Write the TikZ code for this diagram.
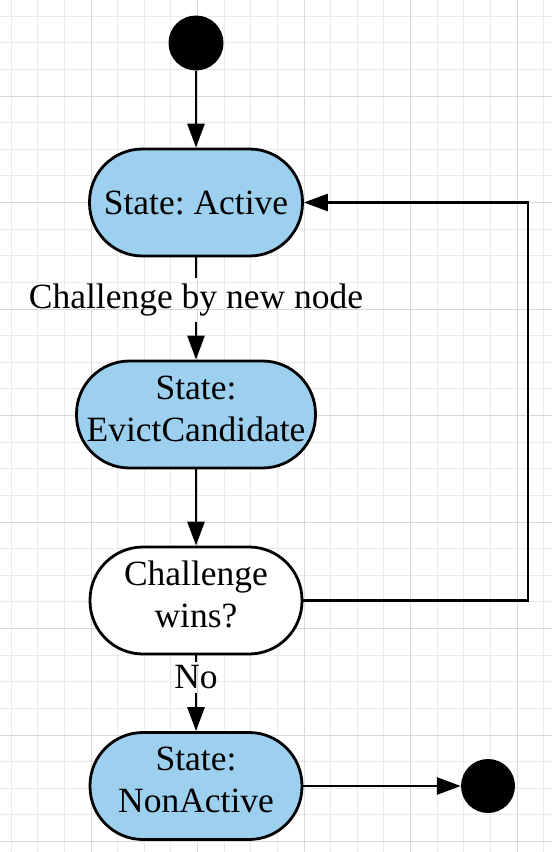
\documentclass[tikz,border=0pt]{standalone}
\usepackage{fontspec}
\setmainfont{Liberation Serif}
\usetikzlibrary{arrows.meta}
\definecolor{statefill}{RGB}{157,208,238}
\definecolor{gridminor}{RGB}{234,234,234}
\definecolor{gridmajor}{RGB}{216,216,216}
\frenchspacing
\begin{document}
\begin{tikzpicture}[x=1pt,y=-1pt,
  bigfont/.style={font=\fontsize{35.5}{42}\selectfont\frenchspacing},
  pill/.style={draw=black, line width=2.8pt, rounded corners=53pt,
    minimum height=107pt, align=center, inner sep=0pt, bigfont},
  stnode/.style={pill, fill=statefill},
  decnode/.style={pill, fill=white},
  twoline/.style={text depth=12pt},
  dot/.style={circle, fill=black, inner sep=0pt, minimum size=55pt},
  lbl/.style={bigfont, inner sep=0pt},
  conn/.style={line width=2.8pt, line join=miter, -{Triangle[length=24pt,width=17pt]}},
  plain/.style={line width=2.8pt, line join=miter}]
\useasboundingbox (0,0) rectangle (552,852);
\fill[white] (0,0) rectangle (552,852);
% grid
\foreach \k in {-3,...,17} {
  \draw[gridminor, line width=1pt] ({91+26.625*\k},0) -- ({91+26.625*\k},852);
}
\foreach \k in {-3,...,28} {
  \draw[gridminor, line width=1pt] (0,{96+26.625*\k}) -- (552,{96+26.625*\k});
}
\foreach \k in {0,4,...,16} {
  \draw[gridmajor, line width=1pt] ({91+26.625*\k},0) -- ({91+26.625*\k},852);
}
\foreach \k in {0,4,...,28} {
  \draw[gridmajor, line width=1pt] (0,{96+26.625*\k}) -- (552,{96+26.625*\k});
}
% nodes
\node[dot] (start) at (196,43) {};
\node[stnode, minimum width=213pt] (active) at (196,202.5) {State: Active};
\node[lbl, minimum height=43pt] (lab1) at (196,300) {Challenge by new node};
\node[stnode, twoline, minimum width=239pt] (evict) at (196,414.5) {State:\\EvictCandidate};
\node[decnode, twoline, minimum width=212pt] (dec) at (196,600.5) {Challenge\\wins?};
\node[lbl, minimum height=31pt] (lab2) at (196,677.5) {No};
\node[stnode, twoline, minimum width=212pt] (nonactive) at (196,786) {State:\\NonActive};
\node[dot, minimum size=54pt] (end) at (488,786) {};
\coordinate (loopb) at (528,600.5);
\coordinate (loopt) at (528,202.5);
% connectors
\draw[conn] (start) -- (active);
\draw[plain] (active.south) -- (lab1.north);
\draw[conn] (lab1.south) -- (evict.north);
\draw[conn] (evict) -- (dec);
\draw[conn] (dec.east) -- (loopb) -- (loopt) -- (active.east);
\draw[plain] (dec.south) -- (lab2.north);
\draw[conn] (lab2.south) -- (nonactive.north);
\draw[conn] (nonactive.east) -- (end);
\end{tikzpicture}
\end{document}
